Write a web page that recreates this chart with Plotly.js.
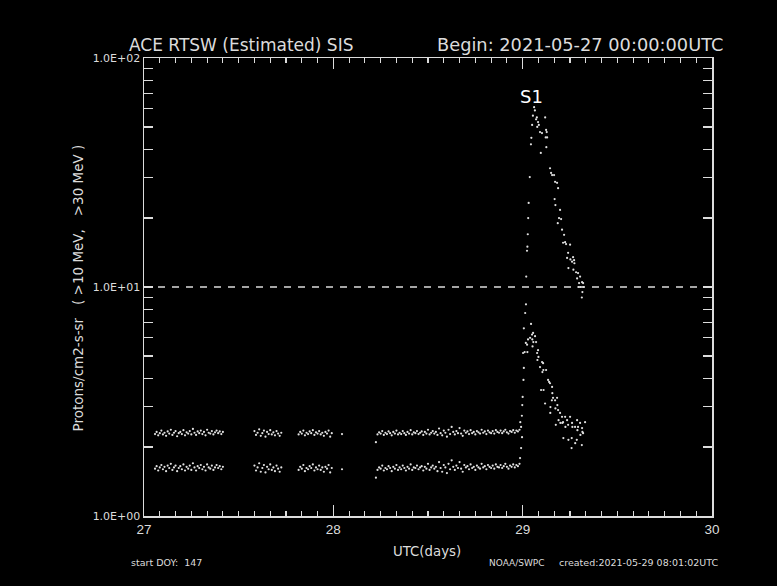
<!DOCTYPE html>
<html>
<head>
<meta charset="utf-8">
<script src="https://cdn.plot.ly/plotly-3.0.1.min.js"></script>
<style>
  html, body { margin: 0; padding: 0; background: #000; }
  #chart { width: 777px; height: 586px; }
</style>
</head>
<body>
<div id="chart"></div>
<script>
// ---- Data (hours since 2021-05-27 00:00 UTC) ----
const baseHours = [
  1.4,1.6,1.8,2.0,2.2,2.4,2.6,2.8,3.0,3.2,
  3.4,3.6,3.8,4.0,4.2,4.4,4.6,4.8,5.0,5.2,
  5.4,5.6,5.8,6.0,6.2,6.4,6.6,6.8,7.0,7.2,
  7.4,7.6,7.8,8.0,8.2,8.4,8.6,8.8,9.0,9.2,
  9.4,9.6,9.8,10.0,
  14.0,14.2,14.4,14.6,14.8,15.0,15.2,15.4,15.6,15.8,
  16.0,16.2,16.4,16.6,16.8,17.0,17.2,17.4,
  19.6,19.8,20.0,20.2,20.4,20.6,20.8,21.0,21.2,21.4,
  21.6,21.8,22.0,22.2,22.4,22.6,22.8,23.0,23.2,23.4,
  23.6,23.8,25.1,
  29.4,29.6,29.8,30.0,30.2,30.4,30.6,30.8,31.0,31.2,
  31.4,31.6,31.8,32.0,32.2,32.4,32.6,32.8,33.0,33.2,
  33.4,33.6,33.8,34.0,34.2,34.4,34.6,34.8,35.0,35.2,
  35.4,35.6,35.8,36.0,36.2,36.4,36.6,36.8,37.0,37.2,
  37.4,37.6,37.8,38.0,38.2,38.4,38.6,38.8,39.0,39.2,
  39.4,39.6,39.8,40.0,40.2,40.4,40.6,40.8,41.0,41.2,
  41.4,41.6,41.8,42.0,42.2,42.4,42.6,42.8,43.0,43.2,
  43.4,43.6,43.8,44.0,44.2,44.4,44.6,44.8,45.0,45.2,
  45.4,45.6,45.8,46.0,46.2,46.4,46.6,46.8,47.0,47.2,
  47.4,47.6
];
const p10Base = [
  2.28,2.33,2.25,2.30,2.36,2.27,2.31,2.24,2.34,2.29,
  2.38,2.26,2.31,2.35,2.23,2.30,2.33,2.28,2.37,2.25,
  2.32,2.29,2.35,2.27,2.40,2.31,2.26,2.34,2.30,2.36,
  2.28,2.33,2.25,2.38,2.31,2.29,2.35,2.27,2.32,2.36,
  2.30,2.34,2.28,2.33,
  2.35,2.26,2.31,2.39,2.24,2.30,2.36,2.22,2.33,2.28,
  2.37,2.27,2.32,2.25,2.35,2.29,2.24,2.31,
  2.27,2.33,2.29,2.36,2.25,2.31,2.28,2.34,2.30,2.37,
  2.26,2.32,2.29,2.35,2.27,2.31,2.24,2.33,2.29,2.36,
  2.22,2.30,2.28,
  2.10,2.27,2.32,2.29,2.35,2.26,2.31,2.28,2.34,2.30,
  2.25,2.33,2.29,2.36,2.27,2.31,2.28,2.35,2.30,2.26,
  2.33,2.29,2.37,2.27,2.32,2.30,2.35,2.28,2.31,2.34,
  2.26,2.33,2.29,2.38,2.27,2.31,2.35,2.29,2.33,2.26,
  2.41,2.30,2.25,2.36,2.31,2.22,2.38,2.28,2.45,2.33,
  2.27,2.35,2.30,2.42,2.29,2.24,2.36,2.31,2.34,2.28,
  2.37,2.30,2.33,2.27,2.35,2.32,2.29,2.38,2.31,2.34,
  2.28,2.36,2.32,2.30,2.35,2.29,2.37,2.33,2.31,2.36,
  2.30,2.34,2.38,2.32,2.29,2.35,2.33,2.37,2.31,2.36,
  2.34,2.38
];
const p30Base = [
  1.61,1.65,1.58,1.63,1.67,1.60,1.64,1.57,1.66,1.62,
  1.69,1.59,1.63,1.66,1.57,1.62,1.65,1.60,1.68,1.58,
  1.64,1.61,1.66,1.59,1.70,1.63,1.58,1.65,1.62,1.67,
  1.60,1.64,1.58,1.68,1.63,1.61,1.66,1.59,1.63,1.67,
  1.62,1.65,1.60,1.64,
  1.66,1.58,1.63,1.70,1.56,1.62,1.67,1.55,1.64,1.60,
  1.68,1.59,1.63,1.57,1.66,1.61,1.56,1.63,
  1.59,1.64,1.61,1.67,1.57,1.62,1.60,1.65,1.62,1.68,
  1.58,1.63,1.60,1.66,1.59,1.63,1.56,1.64,1.61,1.67,
  1.55,1.62,1.60,
  1.47,1.59,1.63,1.61,1.66,1.58,1.62,1.60,1.65,1.62,
  1.57,1.64,1.61,1.67,1.59,1.63,1.60,1.66,1.62,1.58,
  1.64,1.61,1.68,1.59,1.63,1.62,1.66,1.60,1.63,1.65,
  1.58,1.64,1.61,1.69,1.59,1.63,1.66,1.61,1.64,1.57,
  1.72,1.62,1.56,1.67,1.63,1.54,1.69,1.60,1.75,1.64,
  1.59,1.66,1.62,1.72,1.61,1.56,1.67,1.63,1.65,1.60,
  1.68,1.62,1.64,1.59,1.66,1.63,1.61,1.69,1.63,1.65,
  1.60,1.67,1.64,1.62,1.66,1.61,1.68,1.64,1.63,1.67,
  1.62,1.65,1.69,1.64,1.61,1.66,1.64,1.68,1.63,1.67,
  1.65,1.69
];
const p10EventHours = [
  47.70,47.80,47.90,48.00,48.15,48.25,48.32,48.42,48.45,48.55,
  48.60,48.65,48.70,48.76,48.90,49.05,49.10,49.20,49.30,49.45,
  49.55,49.70,49.80,49.85,49.95,50.05,50.20,50.30,50.45,50.85,
  50.92,50.97,51.00,51.05,51.10,51.47,51.60,51.73,51.98,52.05,
  52.11,52.15,52.36,52.45,52.49,52.61,52.74,52.87,52.99,53.12,
  53.25,53.38,53.50,53.63,53.76,53.80,54.01,54.05,54.26,54.39,
  54.43,54.52,54.56,54.77,54.90,55.02,55.06,55.15,55.28,55.32,
  55.50,55.53,55.57,55.66,55.70
];
const p10Event = [
  2.57,2.45,2.74,3.31,4.43,5.20,7.70,8.40,11.1,14.4,
  15.0,17.0,20.0,23.3,30.2,42.0,44.8,51.0,56.0,61.0,
  59.0,54.0,55.0,50.0,52.5,51.0,47.5,38.5,47.0,55.0,
  45.0,48.5,40.8,47.5,45.0,33.0,31.5,30.8,30.8,24.2,
  28.8,22.8,28.5,19.0,27.0,20.0,21.7,19.8,17.8,15.6,
  16.9,15.7,15.4,13.4,14.1,12.1,15.3,13.2,12.9,13.5,
  11.9,13.1,12.7,11.6,10.9,11.5,10.0,10.4,11.1,10.0,
  9.0,10.5,9.5,10.4,10.0
];
const p30EventHours = [
  47.67,47.80,47.92,47.95,48.05,48.10,48.15,48.40,48.56,48.60,
  48.68,48.94,49.06,49.19,49.22,49.25,49.32,49.35,49.57,49.70,
  49.83,49.87,49.95,50.00,50.20,50.33,50.46,50.50,50.59,50.62,
  50.65,50.84,50.97,51.22,51.35,51.47,51.50,51.52,51.70,51.73,
  51.76,51.85,52.11,52.15,52.20,52.36,52.40,52.49,52.55,52.74,
  52.78,52.99,53.03,53.12,53.16,53.38,53.42,53.63,53.76,53.80,
  54.01,54.20,54.22,54.26,54.30,54.64,54.66,54.86,54.90,54.94,
  55.02,55.28,55.32,55.50,55.53,55.57,55.66,55.91
];
const p30Event = [
  1.79,1.98,2.21,3.05,5.15,3.93,6.60,5.70,5.60,5.20,
  5.90,6.00,6.90,6.20,5.90,5.50,6.30,5.75,6.10,5.75,
  5.15,4.80,5.30,4.95,4.47,3.55,4.70,4.25,4.65,4.34,
  3.55,3.10,4.34,3.93,3.85,3.80,2.82,2.99,3.20,3.66,
  3.44,3.28,3.20,2.95,2.50,3.28,3.05,2.90,2.62,2.82,
  2.55,2.71,2.55,2.57,2.19,2.71,2.45,2.62,2.50,2.15,
  2.71,1.98,2.19,2.55,2.45,2.45,2.08,2.15,2.62,2.37,
  2.45,2.55,2.26,2.04,2.42,2.33,2.30,2.57
];
const startDay = 27;            // 2021-05-27
const xTickVals = [27, 28, 29, 30];
// log-axis ticks: decades labelled, 2..9 unlabelled
const yTickVals = [1,2,3,4,5,6,7,8,9,10,20,30,40,50,60,70,80,90,100];
const yTickText = ["1.0E+00","","","","","","","","","1.0E+01","","","","","","","","","1.0E+02"];
const thresholdX = [27, 30];
const thresholdY = [10, 10];    // S1 threshold

const toDay = h => startDay + h / 24;
// 2-hour minor tick positions on the day axis
const xMinorVals = [];
for (let k = 1; k < 36; k++) { if (k % 12 !== 0) xMinorVals.push(27 + k / 12); }

const FG = '#dcdcdc';
const DOT = '#e0e0e0';

const traces = [
  {
    x: baseHours.concat(p10EventHours).map(toDay),
    y: p10Base.concat(p10Event),
    type: 'scatter', mode: 'markers',
    marker: { size: 2.2, color: DOT },
    hoverinfo: 'skip', showlegend: false
  },
  {
    x: baseHours.concat(p30EventHours).map(toDay),
    y: p30Base.concat(p30Event),
    type: 'scatter', mode: 'markers',
    marker: { size: 2.2, color: DOT },
    hoverinfo: 'skip', showlegend: false
  },
  {
    x: thresholdX, y: thresholdY,
    type: 'scatter', mode: 'lines',
    line: { color: FG, width: 1.5, dash: '7px,7px' },
    hoverinfo: 'skip', showlegend: false
  }
];

const ann = (text, x, y, size, xanchor, extra) => Object.assign({
  text: text, x: x, y: y, xref: 'paper', yref: 'paper',
  xanchor: xanchor, yanchor: 'middle', showarrow: false,
  font: { family: 'DejaVu Sans', size: size, color: FG }
}, extra || {});

const layout = {
  width: 777, height: 586,
  paper_bgcolor: '#000', plot_bgcolor: '#000',
  margin: { l: 144, r: 65, t: 58, b: 70, pad: 0 },
  showlegend: false,
  xaxis: {
    range: [27, 30], tickmode: 'array', tickvals: xTickVals,
    ticks: 'inside', ticklen: 11, tickwidth: 1.4, tickcolor: FG,
    showline: true, linecolor: FG, linewidth: 1.5, mirror: 'ticks',
    showgrid: false, zeroline: false,
    tickfont: { family: 'Liberation Sans', size: 13.5, color: FG },
    minor: { tickmode: 'array', tickvals: xMinorVals, ticks: 'inside', ticklen: 5,
             tickwidth: 1.2, tickcolor: FG }
  },
  yaxis: {
    type: 'log', range: [0, 2], tickmode: 'array', tickvals: yTickVals, ticktext: yTickText,
    ticks: 'inside', ticklen: 9, tickwidth: 1.2, tickcolor: FG,
    showline: true, linecolor: FG, linewidth: 1.5, mirror: 'ticks',
    showgrid: false, zeroline: false,
    tickfont: { family: 'DejaVu Sans', size: 11, color: FG }
  },
  annotations: [
    ann('ACE RTSW (Estimated) SIS', -0.030, 1.0284, 17, 'left'),
    ann('Begin: 2021-05-27 00:00:00UTC', 0.5123, 1.0284, 17.8, 'left'),
    ann('S1', 0.683, 0.917, 18, 'center', { font: { family: 'DejaVu Sans', size: 18, color: '#ffffff' } }),
    ann('UTC(days)', 0.4982, -0.0786, 13.3, 'center'),
    ann('start DOY:\u00a0\u00a0147', -0.0264, -0.1026, 9.5, 'left'),
    ann('NOAA/SWPC', 0.6039, -0.1026, 9, 'left'),
    ann('created:2021-05-29 08:01:02UTC', 0.7271, -0.1026, 9.5, 'left'),
    ann('Protons/cm2-s-sr\u00a0\u00a0\u00a0(\u00a0>10\u00a0MeV,\u00a0\u00a0\u00a0>30\u00a0MeV\u00a0)', -0.117, 0.498, 13.5, 'center', { textangle: -90 })
  ]
};

Plotly.newPlot('chart', traces, layout, { staticPlot: true, displayModeBar: false });
</script>
</body>
</html>
